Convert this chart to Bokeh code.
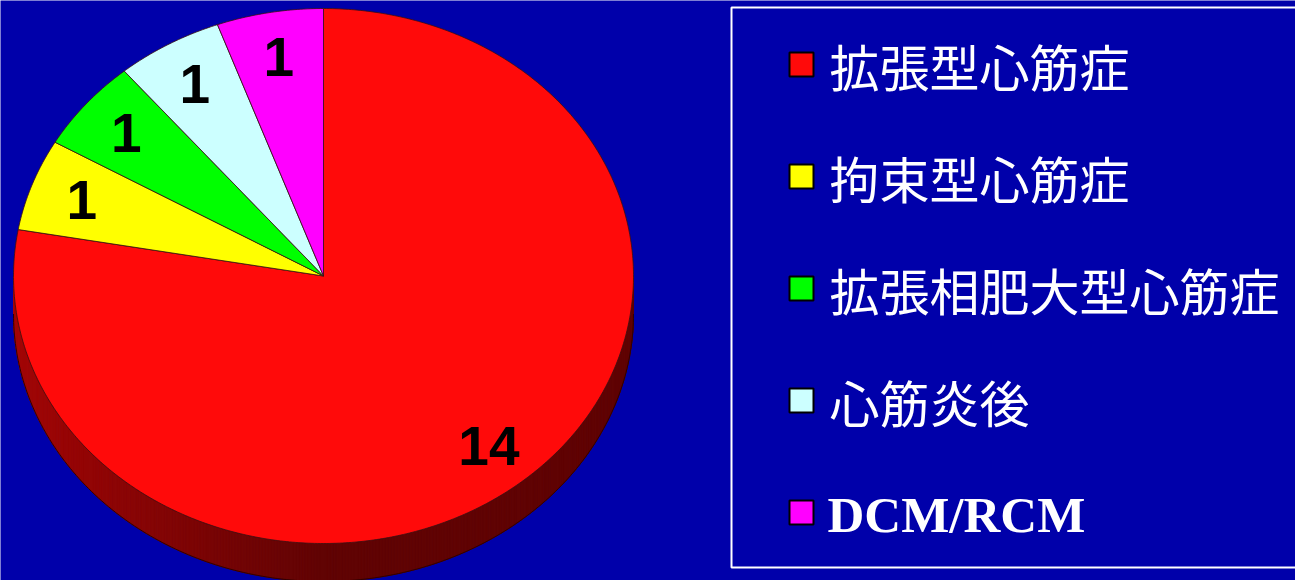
import numpy as np
from bokeh.plotting import figure
from bokeh.models import Range1d, ColumnDataSource
from bokeh.core.properties import value
from bokeh.embed import file_html
from bokeh.resources import INLINE

# ---- data ----
categories = ["拡張型心筋症", "拘束型心筋症", "拡張相肥大型心筋症", "心筋炎後", "DCM/RCM"]
counts = [14, 1, 1, 1, 1]
colors = ["#FF0A0A", "#FFFF00", "#00FF00", "#CCFFFF", "#FF00FF"]

BG = "#0000AA"
W, H = 1295, 580
p = figure(width=W, height=H, x_range=Range1d(0, W), y_range=Range1d(H, 0),
           output_backend="svg", toolbar_location=None, min_border=0)
p.axis.visible = False
p.grid.visible = False
p.outline_line_color = None
p.background_fill_color = BG
p.border_fill_color = BG

# pie geometry (screen-like coordinates, y downward)
cx, cy, rx, ry, depth = 323, 275.5, 310, 267.5, 38
total = float(sum(counts))
fr = np.array(counts) / total * 2 * np.pi
ends = np.cumsum(fr)
starts = ends - fr


def rgb(hexc):
    hexc = hexc.lstrip("#")
    return [int(hexc[i:i + 2], 16) for i in (0, 2, 4)]


def shade(hexc, f):
    r, g, b = rgb(hexc)
    return "#%02x%02x%02x" % (int(r * f), int(g * f), int(b * f))


# ---- side (3D depth) ----
sxs, sys_, scol = [], [], []
for s, e, c in zip(starts, ends, colors):
    a0, a1 = max(s, np.pi / 2), min(e, 3 * np.pi / 2)
    if a1 <= a0:
        continue
    n = max(2, int((a1 - a0) / 0.01))
    th = np.linspace(a0, a1, n + 1)
    for t0, t1 in zip(th[:-1], th[1:]):
        xa, xb = cx + rx * np.sin(t0), cx + rx * np.sin(t1)
        ya, yb = cy - ry * np.cos(t0), cy - ry * np.cos(t1)
        sxs.append([xa, xb, xb, xa])
        sys_.append([ya, yb, yb + depth, ya + depth])
        tm = 0.5 * (t0 + t1)
        f = 0.38 + 0.26 * max(0.0, -np.sin(tm))
        scol.append(shade(c, f))
p.patches(sxs, sys_, fill_color=scol, line_color=scol, line_width=1)

# bottom outline of side
tb = np.linspace(np.pi / 2, 3 * np.pi / 2, 200)
p.line(cx + rx * np.sin(tb), cy - ry * np.cos(tb) + depth, line_color="#300000", line_width=1)

# ---- top face ----
txs, tys = [], []
for s, e in zip(starts, ends):
    th = np.linspace(s, e, max(3, int((e - s) / 0.01)))
    txs.append([cx] + list(cx + rx * np.sin(th)))
    tys.append([cy] + list(cy - ry * np.cos(th)))
p.patches(txs, tys, fill_color=colors, line_color="#3a1010", line_width=1, line_alpha=0.8)

# ---- value labels ----
mid = (starts + ends) / 2
lf = 0.83
lab = ColumnDataSource(dict(x=cx + rx * lf * np.sin(mid), y=cy - ry * lf * np.cos(mid),
                            t=[str(v) for v in counts]))
p.text(x="x", y="y", text="t", source=lab, text_align="center", text_baseline="middle",
       text_font=value("Liberation Sans"), text_font_style="bold", text_font_size="55px",
       text_color="black")

# ---- legend ----
lx, ly0, lstep = 801, 64, 112
ly = [ly0 + i * lstep for i in range(len(categories))]
p.scatter(x=[lx] * len(categories), y=ly, marker="square", size=24, fill_color=colors,
          line_color="black", line_width=2)
cjk = [i for i, c in enumerate(categories) if not c.isascii()]
asc = [i for i, c in enumerate(categories) if c.isascii()]
p.text(x=[829] * len(cjk), y=[ly[i] for i in cjk], text=[categories[i] for i in cjk],
       text_align="left", text_baseline="middle", text_font=value("Noto Sans CJK JP"),
       text_font_size="50px", text_color="white")
p.text(x=[827] * len(asc), y=[ly[i] + 2 for i in asc], text=[categories[i] for i in asc],
       text_align="left", text_baseline="middle", text_font=value("Liberation Serif"),
       text_font_style="bold", text_font_size="51px", text_color="white")

# legend frame (left, top, bottom edges; right edge lies beyond the picture)
p.line(x=[1310, 731, 731, 1310], y=[7, 7, 567, 567], line_color="white", line_width=2)

html = file_html(p, INLINE)
html = html.replace("<body>", '<body style="margin:0;background-color:%s;">' % BG, 1)
open("out.html", "w").write(html)
